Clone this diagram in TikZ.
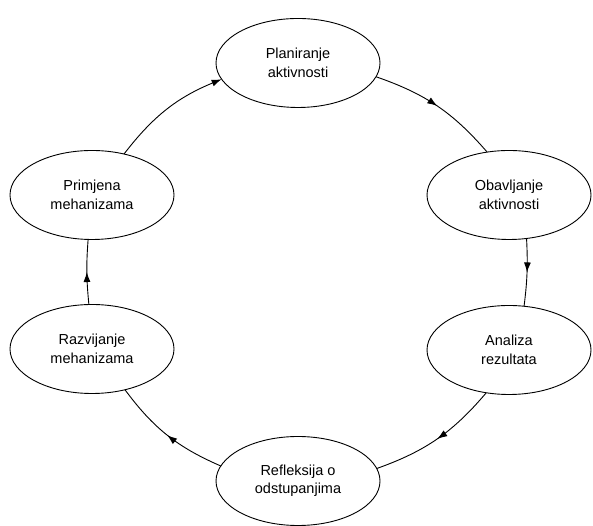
\documentclass[tikz,border=0pt]{standalone}
\usepackage{fontspec}
\setmainfont{Liberation Sans}
\usetikzlibrary{shapes.geometric,arrows.meta,decorations.markings}

\begin{document}
\begin{tikzpicture}[x=1pt,y=1pt,
    stage/.style={ellipse,draw,line width=0.9pt,minimum width=164pt,minimum height=89pt,
        inner sep=0pt,outer sep=0pt,align=center,font=\fontsize{14.5}{18.5}\selectfont},
    flow/.style={line width=0.9pt,postaction={decorate},
        decoration={markings,mark=at position 0.5 with {\arrow{Latex[length=10pt,width=7pt]}}}}]
    \useasboundingbox (0,0) rectangle (593,526);
    % cycle of stages
    \node[stage] (plan) at (298,463) {Planiranje\\aktivnosti};
    \node[stage] (obav) at (509,331) {Obavljanje\\aktivnosti};
    \node[stage] (anal) at (509,176) {Analiza\\rezultata};
    \node[stage] (refl) at (298,45)  {Refleksija o\\odstupanjima};
    \node[stage] (razv) at (92,177)  {Razvijanje\\mehanizama};
    \node[stage] (prim) at (92,331)  {Primjena\\mehanizama};
    % connectors
    \foreach \a/\b/\c/\d/\bnd in {plan/-10/obav/117/15, obav/-68/anal/71/5, anal/242/refl/9/15,
        refl/169/razv/-51/15, razv/94/prim/265/5}{
        \draw[flow] (\a.\b) to[bend left=\bnd] (\c.\d);
    }
    \draw[line width=0.9pt,-{Latex[length=10pt,width=7pt]}] (prim.52) to[bend left=15] (plan.192);
\end{tikzpicture}
\end{document}
